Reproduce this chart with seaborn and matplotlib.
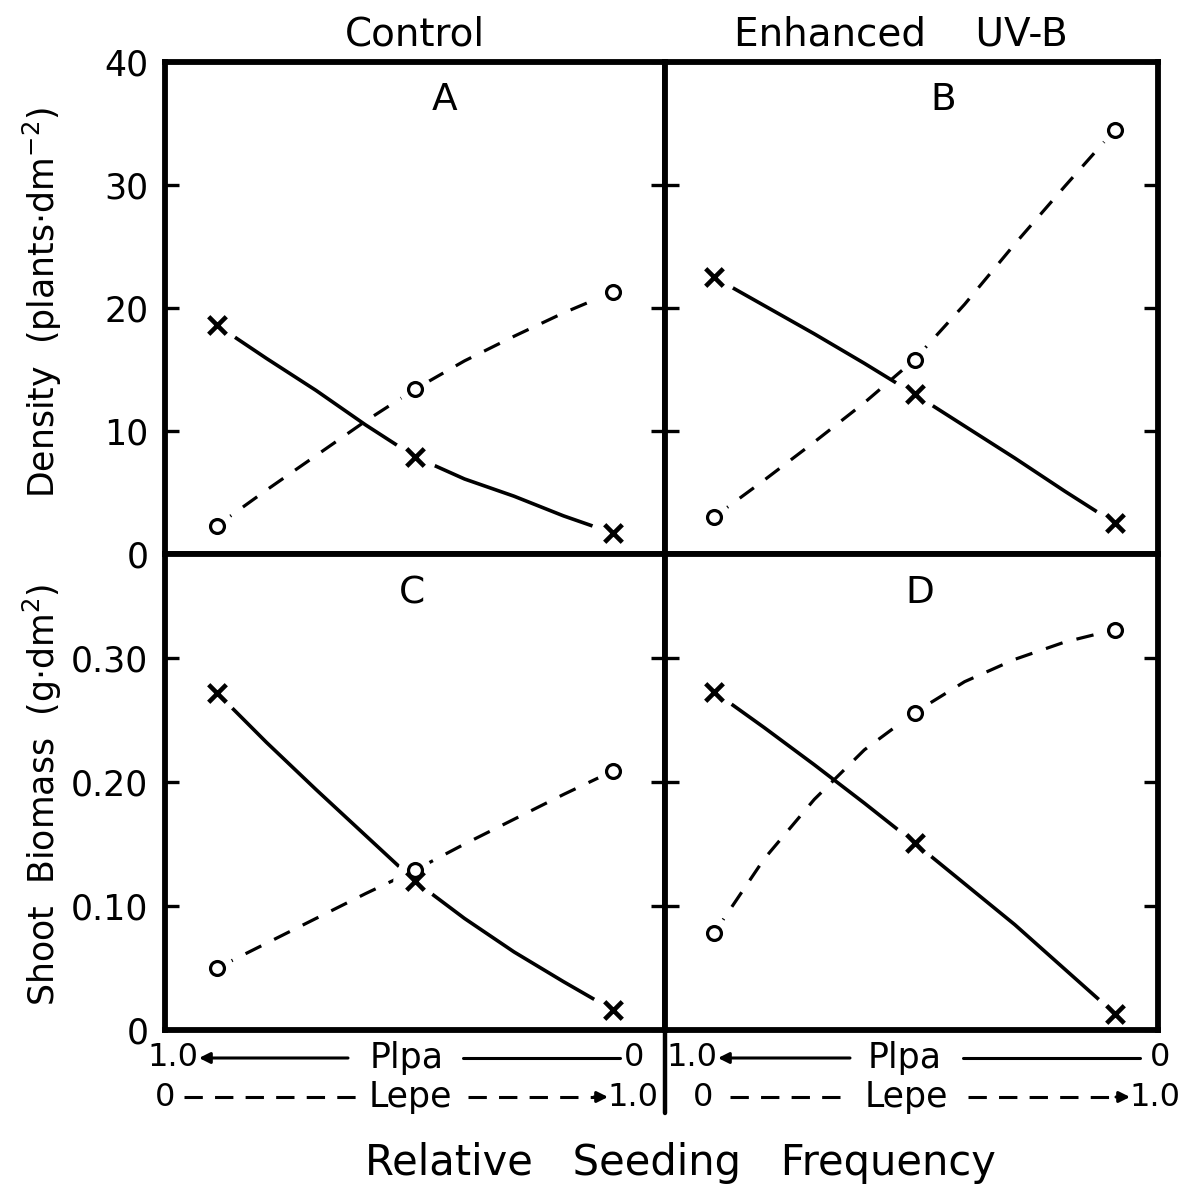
import matplotlib
matplotlib.use("Agg")
import matplotlib.pyplot as plt
import seaborn as sns
import numpy as np
import pandas as pd

# ---------------- data ----------------
x_freq = [0.0, 0.5, 1.0]          # relative seeding frequency of Lepe (Plpa = 1 - x)

density_control_plpa = [18.6, 7.9, 1.7]
density_control_lepe = [2.3, 13.4, 21.3]
density_uvb_plpa = [22.5, 13.0, 2.5]
density_uvb_lepe = [3.0, 15.8, 34.5]

biomass_control_plpa = [0.272, 0.120, 0.016]
biomass_control_lepe = [0.050, 0.129, 0.209]
biomass_uvb_plpa = [0.273, 0.151, 0.013]
biomass_uvb_lepe = [0.078, 0.256, 0.323]

# hand-fitted curves as drawn in the figure
curve_x = [0.0, 0.125, 0.25, 0.375, 0.5, 0.625, 0.75, 0.875, 1.0]
curve_A_plpa = [18.6, 15.9, 13.3, 10.5, 7.9, 6.1, 4.7, 3.1, 1.7]
curve_A_lepe = [2.3, 5.2, 8.0, 10.8, 13.4, 15.7, 17.7, 19.6, 21.3]
curve_B_plpa = [22.5, 20.2, 17.9, 15.5, 13.0, 10.4, 7.8, 5.1, 2.5]
curve_B_lepe = [3.0, 6.0, 9.1, 12.3, 15.8, 20.3, 25.2, 29.9, 34.5]
curve_C_plpa = [0.272, 0.232, 0.194, 0.157, 0.120, 0.090, 0.063, 0.039, 0.016]
curve_C_lepe = [0.050, 0.070, 0.090, 0.110, 0.129, 0.150, 0.170, 0.190, 0.209]
curve_D_plpa = [0.273, 0.244, 0.214, 0.183, 0.151, 0.118, 0.085, 0.049, 0.013]
curve_D_lepe = [0.078, 0.138, 0.186, 0.226, 0.256, 0.281, 0.299, 0.313, 0.323]

panel_letters = ["A", "B", "C", "D"]
column_titles = ["Control", "Enhanced    UV-B"]
density_ticks = [0, 10, 20, 30, 40]
density_ticklabels = ["0", "10", "20", "30", "40"]
biomass_ticks = [0, 0.10, 0.20, 0.30]
biomass_ticklabels = ["0", "0.10", "0.20", "0.30"]

# ---------------- style ----------------
sns.set_style("white")
plt.rcParams["font.family"] = ["DejaVu Sans"]
plt.rcParams["mathtext.fontset"] = "dejavusans"
plt.rcParams["text.color"] = "black"

W, H = 1188, 1189
fig = plt.figure(figsize=(W / 100, H / 100), dpi=100)


def fx(px):
    return px / W


def fy(py):
    return 1 - py / H


SPINE_LW = 4.2
axA = fig.add_axes([fx(165), fy(554), 500 / W, 492 / H])
axB = fig.add_axes([fx(665), fy(554), 493 / W, 492 / H])
axC = fig.add_axes([fx(165), fy(1030), 500 / W, 476 / H])
axD = fig.add_axes([fx(665), fy(1030), 493 / W, 476 / H])
axes = [axA, axB, axC, axD]

panels = [
    (axA, curve_A_plpa, curve_A_lepe, density_control_plpa, density_control_lepe),
    (axB, curve_B_plpa, curve_B_lepe, density_uvb_plpa, density_uvb_lepe),
    (axC, curve_C_plpa, curve_C_lepe, biomass_control_plpa, biomass_control_lepe),
    (axD, curve_D_plpa, curve_D_lepe, biomass_uvb_plpa, biomass_uvb_lepe),
]

for ax, cp, cl, pp, pl in panels:
    sns.lineplot(x=curve_x, y=cp, ax=ax, color="black", lw=2.6, sort=False,
                 estimator=None)
    sns.lineplot(x=curve_x, y=cl, ax=ax, color="black", lw=2.3, sort=False,
                 estimator=None)
    ax.lines[-1].set_dashes([5.5, 4.5])
    ax.lines[-1].set_dash_capstyle("butt")
    for ln in ax.lines:
        ln.set_zorder(1.5)
        ln.set_solid_joinstyle("round")
    # white halos leaving the gap between curve and symbol
    ax.scatter(x_freq, pp, marker="o", s=980, facecolors="white",
               edgecolors="none", linewidths=0, zorder=3, clip_on=False)
    ax.scatter(x_freq, pl, marker="o", s=560, facecolors="white",
               edgecolors="none", linewidths=0, zorder=3, clip_on=False)
    # symbols
    n0 = len(ax.collections)
    sns.scatterplot(x=x_freq, y=pp, ax=ax, marker="x", s=160, color="black",
                    linewidth=3.3)
    sns.scatterplot(x=x_freq, y=pl, ax=ax, marker="o", s=100, facecolor="white",
                    edgecolor="black", linewidth=2.3)
    for c in ax.collections[n0:]:
        c.set_zorder(4)
        c.set_clip_on(False)

for ax in axes:
    for sp in ax.spines.values():
        sp.set_visible(True)
        sp.set_color("black")
        sp.set_linewidth(SPINE_LW)
        sp.set_zorder(6)
    ax.set_xticks([])
    ax.set_xlabel("")
    ax.set_ylabel("")
    ax.tick_params(axis="y", which="both", direction="in", length=10, width=2.4,
                   left=True, right=True, labelleft=False, labelsize=25, pad=12,
                   colors="black")

axA.set_xlim(-52 / 396, 1 + 52 / 396)
axC.set_xlim(-52 / 396, 1 + 52 / 396)
axB.set_xlim(-49 / 401, 1 + 43 / 401)
axD.set_xlim(-49 / 401, 1 + 43 / 401)

for ax in (axA, axB):
    ax.set_ylim(0, 40)
    ax.set_yticks(density_ticks)
for ax in (axC, axD):
    ax.set_ylim(0, 0.384)
    ax.set_yticks(biomass_ticks)

axA.set_yticklabels(density_ticklabels)
axC.set_yticklabels(biomass_ticklabels)
axA.tick_params(axis="y", labelleft=True)
axC.tick_params(axis="y", labelleft=True)

# ---------------- text ----------------
TXT = dict(color="black")
fig.text(fx(415), fy(35), column_titles[0], ha="center", va="center", fontsize=28, **TXT)
fig.text(fx(901), fy(35), column_titles[1], ha="center", va="center", fontsize=28, **TXT)

for (px, py), lab in zip([(445, 100), (943, 100), (412, 593), (920, 593)], panel_letters):
    fig.text(fx(px), fy(py), lab, ha="center", va="center", fontsize=27, **TXT)

fig.text(fx(42), fy(302), "Density  (plants$\\cdot$dm$^{-2}$)", rotation=90,
         ha="center", va="center", fontsize=25, **TXT)
fig.text(fx(42), fy(795), "Shoot  Biomass  (g$\\cdot$dm$^{2}$)", rotation=90,
         ha="center", va="center", fontsize=25, **TXT)

fig.text(fx(680), fy(1163), "Relative   Seeding   Frequency", ha="center",
         va="center", fontsize=30, **TXT)

# divider continues below the panels
fig.add_artist(plt.Line2D([fx(665), fx(665)], [fy(1030), fy(1113)],
                          transform=fig.transFigure, color="black", lw=3.2))

# seeding-frequency scale under each column
FS = 25
FN = 23


def scale_rows(x_left_lab, arr_start, plpa_c, line2_s, line2_e, zero_c,
               lz_c, d1s, d1e, lepe_c, d2s, d2e, one_r):
    y1, y2 = 1058, 1097
    fig.text(fx(x_left_lab), fy(y1), "1.0", ha="right", va="center", fontsize=FN, **TXT)
    fig.add_artist(matplotlib.patches.FancyArrowPatch(
        (fx(arr_start), fy(y1)), (fx(x_left_lab + 1), fy(y1)),
        transform=fig.transFigure, arrowstyle="-|>", mutation_scale=16,
        color="black", lw=2.2, shrinkA=0, shrinkB=0))
    fig.text(fx(plpa_c), fy(y1), "Plpa", ha="center", va="center", fontsize=FS, **TXT)
    fig.add_artist(plt.Line2D([fx(line2_s), fx(line2_e)], [fy(y1), fy(y1)],
                              transform=fig.transFigure, color="black", lw=2.2))
    fig.text(fx(zero_c), fy(y1), "0", ha="center", va="center", fontsize=FN, **TXT)

    fig.text(fx(lz_c), fy(y2), "0", ha="center", va="center", fontsize=FN, **TXT)
    ln = plt.Line2D([fx(d1s), fx(d1e)], [fy(y2), fy(y2)],
                    transform=fig.transFigure, color="black", lw=2.2)
    ln.set_dashes([6, 4])
    fig.add_artist(ln)
    fig.text(fx(lepe_c), fy(y2), "Lepe", ha="center", va="center", fontsize=FS, **TXT)
    ln2 = plt.Line2D([fx(d2s), fx(d2e - 12)], [fy(y2), fy(y2)],
                     transform=fig.transFigure, color="black", lw=2.2)
    ln2.set_dashes([6, 4])
    fig.add_artist(ln2)
    fig.add_artist(matplotlib.patches.FancyArrowPatch(
        (fx(d2e - 14), fy(y2)), (fx(d2e), fy(y2)),
        transform=fig.transFigure, arrowstyle="-|>", mutation_scale=16,
        color="black", lw=2.2, shrinkA=0, shrinkB=0))
    fig.text(fx(one_r), fy(y2), "1.0", ha="right", va="center", fontsize=FN, **TXT)


scale_rows(198, 348, 407, 463, 620, 634, 165, 184, 360, 410, 468, 608, 658)
scale_rows(717, 850, 905, 963, 1140, 1160, 703, 730, 850, 906, 968, 1130, 1180)

fig.savefig("out.png", dpi=100, facecolor="white")
